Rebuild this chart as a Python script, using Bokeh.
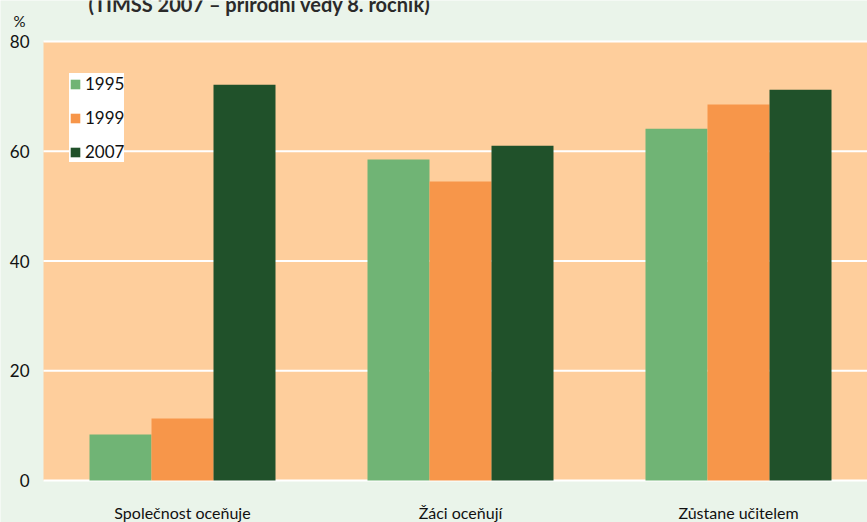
from bokeh.plotting import figure
from bokeh.models import Range1d, Legend, LegendItem, ColumnDataSource
from bokeh.core.properties import value
from bokeh.embed import file_html
from bokeh.resources import INLINE

categories = ["Společnost oceňuje", "Žáci oceňují", "Zůstane učitelem"]
years = ["1995", "1999", "2007"]
v1995 = [8.4, 58.5, 64.1]
v1999 = [11.3, 54.5, 68.5]
v2007 = [72.1, 61.0, 71.2]
y_ticks = [0, 20, 40, 60, 80]
y_tick_labels = ["0", "20", "40", "60", "80"]
title_text = "(TIMSS 2007 – přírodní vědy 8. ročník)"
unit_text = "%"

colors = ["#70B475", "#F7964A", "#20512A"]
FONT = "Lato"
TXT = "#111111"

W, H = 867, 522
left, top, frame_h = 43, 41, 439
group_px = 278.0
ppu = frame_h / (y_ticks[-1] - y_ticks[0])
x_end = (W - left) / group_px

p = figure(width=W, height=H, output_backend="svg", toolbar_location=None,
           x_range=Range1d(-left / group_px, x_end),
           y_range=Range1d(-(H - top - frame_h) / ppu, y_ticks[-1] + top / ppu),
           min_border=0, x_axis_location=None, y_axis_location=None)
p.background_fill_color = "#EAF4EA"
p.border_fill_color = "#EAF4EA"
p.outline_line_color = None
p.grid.visible = False

# plot area background and grid
p.quad(left=0, right=x_end, bottom=y_ticks[0], top=y_ticks[-1],
       fill_color="#FECE9C", line_color=None)
p.segment(x0=[0] * len(y_ticks), x1=[x_end] * len(y_ticks), y0=y_ticks, y1=y_ticks,
          line_color="white", line_width=2)

centers = [i + 0.5 for i in range(len(categories))]
bw = 62.0 / group_px
renderers = []
for k, (vals, col) in enumerate(zip([v1995, v1999, v2007], colors)):
    xs = [c + (k - 1) * bw for c in centers]
    src = ColumnDataSource(dict(x=xs, top=vals))
    r = p.vbar(x="x", top="top", bottom=0, width=bw, source=src,
               fill_color=col, line_color=None)
    renderers.append(r)

# y tick labels
p.text(x=[-14 / group_px] * len(y_ticks), y=y_ticks, text=y_tick_labels,
       text_font=value(FONT), text_font_size="17px", text_color=TXT,
       text_align="right", text_baseline="middle")
# category labels
p.text(x=centers, y=[-32 / ppu] * len(centers), text=categories,
       text_font=value(FONT), text_font_size="16px", text_color=TXT,
       text_align="center", text_baseline="middle")
# unit and (cropped) title
p.text(x=[-24 / group_px], y=[y_ticks[-1] + 21 / ppu], text=[unit_text],
       text_font=value(FONT), text_font_size="15px", text_color=TXT,
       text_align="center", text_baseline="middle")
p.text(x=[45 / group_px], y=[y_ticks[-1] + 38 / ppu], text=[title_text],
       text_font=value(FONT), text_font_size="20px", text_font_style="bold",
       text_color="#2a2a2a", text_align="left", text_baseline="alphabetic")

legend = Legend(items=[LegendItem(label=y, renderers=[r]) for y, r in zip(years, renderers)],
                location=(69, H - 162), orientation="vertical")
legend.background_fill_color = "white"
legend.background_fill_alpha = 1
legend.border_line_color = None
legend.padding = 8
legend.spacing = 13
legend.label_height = 20
legend.glyph_height = 12
legend.glyph_width = 12
legend.label_standoff = 4
legend.margin = 0
legend.label_text_font = FONT
legend.label_text_font_size = "17px"
legend.label_text_color = TXT
p.add_layout(legend, "center")

open("out.html", "w").write(file_html(p, INLINE))
